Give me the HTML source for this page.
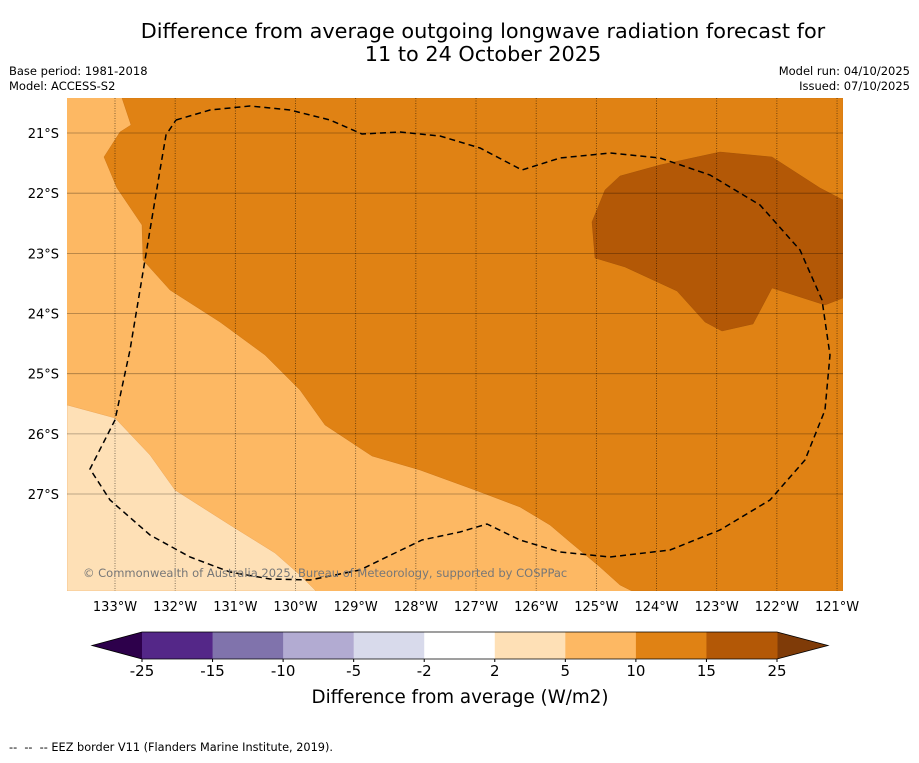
<!DOCTYPE html>
<html><head><meta charset="utf-8"><style>
body{margin:0;background:#fff;font-family:"Liberation Sans","DejaVu Sans",sans-serif;}
svg text{font-family:"DejaVu Sans","Liberation Sans",sans-serif;}
</style></head><body>
<svg id="chart" width="919" height="758" viewBox="0 0 919 758" xmlns="http://www.w3.org/2000/svg">
<text x="483" y="38" font-size="20.8" text-anchor="middle">Difference from average outgoing longwave radiation forecast for</text>
<text x="483" y="61" font-size="20.8" text-anchor="middle">11 to 24 October 2025</text>
<text x="9" y="75" font-size="11.5">Base period: 1981-2018</text>
<text x="9" y="90" font-size="11.5">Model: ACCESS-S2</text>
<text x="910" y="75" font-size="11.5" text-anchor="end">Model run: 04/10/2025</text>
<text x="910" y="90" font-size="11.5" text-anchor="end">Issued: 07/10/2025</text>
<defs><clipPath id="mapclip"><rect x="67" y="98" width="776" height="493"/></clipPath></defs>
<g clip-path="url(#mapclip)">
<rect x="67" y="98" width="776" height="493" fill="#fdb863"/>
<polygon fill="#fee0b6" stroke="#e8a050" stroke-width="0.4" points="67,405 115,418 150,455 175,490 230,525 275,553 300,575 316,591 67,591"/>
<polygon fill="#e08214" stroke="#c87010" stroke-width="0.4" points="122,98 131,125 120,132 104,157 117,188 142,225 143,260 170,290 220,322 265,355 300,390 325,425 372,456 420,470 475,490 520,507 550,525 570,542 600,567 620,585 632,591 843,591 843,98"/>
<polygon fill="#b35806" stroke="#a04f06" stroke-width="0.4" points="605,190 620,176 660,165 720,152 772,157 820,188 843,200 843,298 825,305 772,288 753,324 722,331 705,322 677,291 625,267 595,258 592,222"/>
<g id="grid"></g>
<polyline fill="none" stroke="#000" stroke-width="1.5" stroke-dasharray="6,4" points="176,120 210,110 250,106 290,110 330,120 362,134 400,132 440,136 480,148 522,170 560,158 610,153 660,158 710,175 760,205 800,250 822,300 830,355 825,410 805,460 770,500 720,530 670,550 610,557 560,552 520,540 487,524 460,532 422,540 395,553 360,570 310,580 270,579 230,572 190,557 150,535 110,500 90,469 115,420 130,350 145,260 160,170 166,135 176,120"/>
<text x="83" y="577" font-size="11.5" fill="#777">© Commonwealth of Australia 2025, Bureau of Meteorology, supported by COSPPac</text>
</g>
<g id="axes"></g>
<g id="cbar"></g>
<text x="460" y="703" font-size="18.3" text-anchor="middle">Difference from average (W/m2)</text>
<text x="9" y="751" font-size="11.3" xml:space="preserve" style="white-space:pre">--  --  -- EEZ border V11 (Flanders Marine Institute, 2019).</text>
</svg>
<script>
const lonTicks=[133,132,131,130,129,128,127,126,125,124,123,122,121];
const latTicks=[21,22,23,24,25,26,27];
const cbBounds=[-25,-15,-10,-5,-2,2,5,10,15,25];
const cbColors=["#542788","#8073ac","#b2abd2","#d8daeb","#ffffff","#fee0b6","#fdb863","#e08214","#b35806"];
const cbTickLabels=["-25","-15","-10","-5","-2","2","5","10","15","25"];
const NS="http://www.w3.org/2000/svg";
const xLon=l=>115+(133-l)*60.17;
const yLat=l=>133+(l-21)*60.17;
function mk(t,a,p){const e=document.createElementNS(NS,t);for(const k in a)e.setAttribute(k,a[k]);p.appendChild(e);return e;}
const grid=document.getElementById('grid'),axes=document.getElementById('axes'),cb=document.getElementById('cbar');
lonTicks.forEach(l=>{
 const x=xLon(l);
 const g=mk('line',{x1:x,x2:x,y1:98,y2:591,stroke:'#000','stroke-opacity':0.6,'stroke-width':0.8,'stroke-dasharray':'1,1.5'},grid);
 
 
 const t=mk('text',{x:x,y:611,'font-size':13,'text-anchor':'middle'},axes);t.textContent=l+'°W';
 
 
});
latTicks.forEach(l=>{
 const y=yLat(l);
 const g=mk('line',{x1:67,x2:843,y1:y,y2:y,stroke:'#000','stroke-opacity':0.35,'stroke-width':0.8},grid);
 
 
 const t=mk('text',{x:59,y:y+5,'font-size':13,'text-anchor':'end'},axes);t.textContent=l+'°S';
 
 
});
const cbX0=142,cbX1=777,cbY=632,cbH=27;
const cbw=(cbX1-cbX0)/cbColors.length;
const xi=i=>cbX0+i*cbw;
const l=mk('polygon',{points:`${cbX0},${cbY} ${cbX0},${cbY+cbH} 92,${cbY+cbH/2}`,fill:'#2d004b'},cb);


const r=mk('polygon',{points:`${cbX1},${cbY} ${cbX1},${cbY+cbH} 828,${cbY+cbH/2}`,fill:'#7f3b08'},cb);


cbColors.forEach((c,i)=>{
 const b=mk('rect',{x:xi(i),y:cbY,width:cbw+0.5,height:cbH,fill:c},cb);
 
 
});
mk('polygon',{points:`92,${cbY+cbH/2} ${cbX0},${cbY} ${cbX1},${cbY} 828,${cbY+cbH/2} ${cbX1},${cbY+cbH} ${cbX0},${cbY+cbH}`,fill:'none',stroke:'#000','stroke-width':0.8},cb);
cbTickLabels.forEach((s,i)=>{
 const x=xi(i);
 mk('line',{x1:x,x2:x,y1:cbY+cbH,y2:cbY+cbH+3,stroke:'#000'},cb);
 const t=mk('text',{x:x,y:676,'font-size':15,'text-anchor':'middle'},cb);t.textContent=s;
 
 
});
</script>
</body></html>
